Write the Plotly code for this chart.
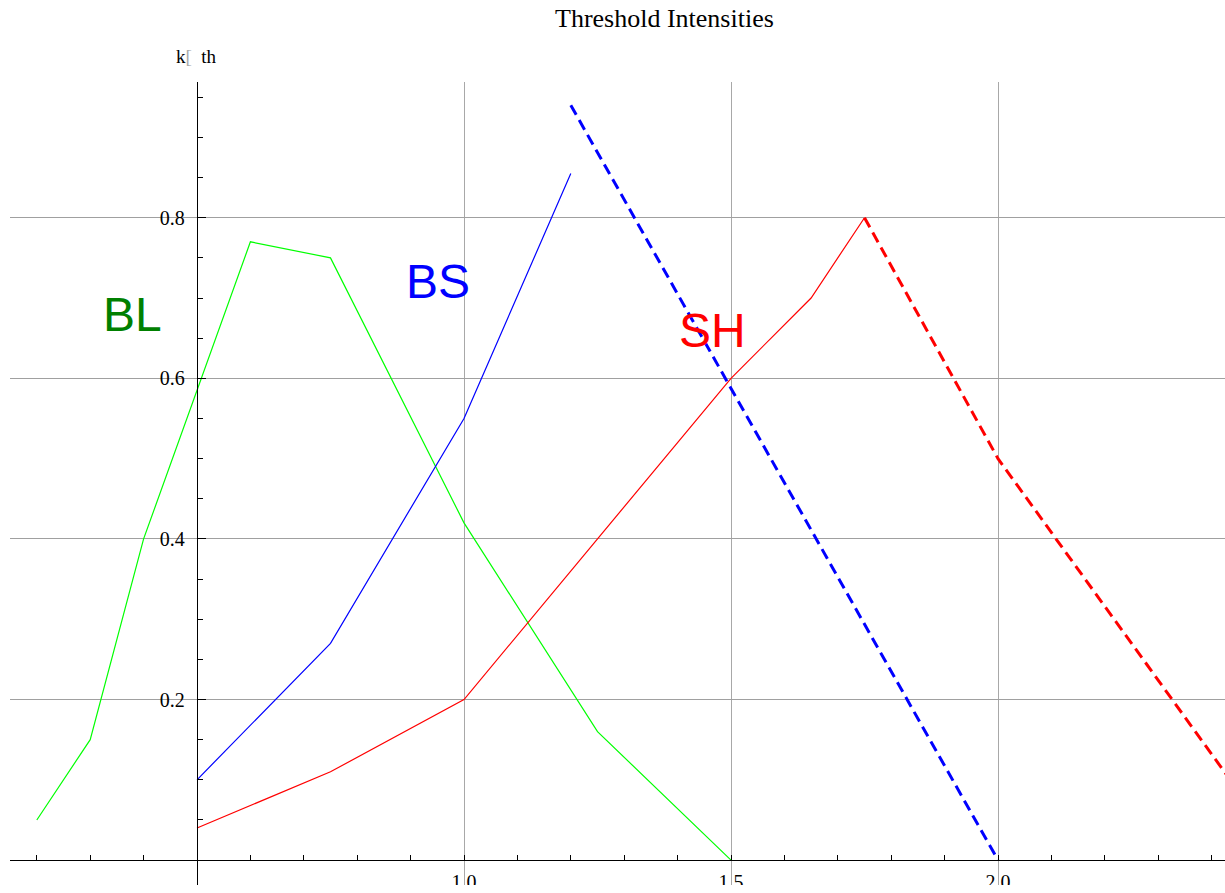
import plotly.graph_objects as go

# Threshold intensity curves
bl_x = [0.2, 0.3, 0.4, 0.6, 0.75, 1.0, 1.25, 1.5]
bl_y = [0.05, 0.15, 0.4, 0.77, 0.75, 0.42, 0.16, 0.0]

bs_x = [0.5, 0.75, 1.0, 1.2]
bs_y = [0.1, 0.27, 0.55, 0.855]
bs_ext_x = [1.2, 2.0]
bs_ext_y = [0.94, 0.0]

sh_x = [0.5, 0.75, 1.0, 1.5, 1.65, 1.75]
sh_y = [0.04, 0.11, 0.2, 0.6, 0.7, 0.8]
sh_ext_x = [1.75, 2.0, 2.5]
sh_ext_y = [0.8, 0.5, 0.04]

x_ticks = [1.0, 1.5, 2.0]
x_ticktext = ["1.0", "1.5", "2.0"]
y_ticks = [0.2, 0.4, 0.6, 0.8]
y_ticktext = ["0.2", "0.4", "0.6", "0.8"]

X_RANGE = [0.1498, 2.4251]
Y_RANGE = [-0.031, 0.969]
Y_AXIS_AT = 0.5

serif = "Liberation Serif, Times New Roman, serif"
sans = "Liberation Sans, Arial, sans-serif"

fig = go.Figure()

fig.add_trace(go.Scatter(x=bl_x, y=bl_y, mode="lines",
                         line=dict(color="#00ff00", width=1.2)))
fig.add_trace(go.Scatter(x=bs_x, y=bs_y, mode="lines",
                         line=dict(color="#0000ff", width=1.2)))
fig.add_trace(go.Scatter(x=bs_ext_x, y=bs_ext_y, mode="lines",
                         line=dict(color="#0000ff", width=3, dash="11px,6px")))
fig.add_trace(go.Scatter(x=sh_x, y=sh_y, mode="lines",
                         line=dict(color="#ff0000", width=1.2)))
fig.add_trace(go.Scatter(x=sh_ext_x, y=sh_ext_y, mode="lines",
                         line=dict(color="#ff0000", width=3, dash="11px,6px")))

x_axis_pos = (0 - Y_RANGE[0]) / (Y_RANGE[1] - Y_RANGE[0])
y_axis_pos = (Y_AXIS_AT - X_RANGE[0]) / (X_RANGE[1] - X_RANGE[0])

fig.update_layout(
    width=1225, height=893,
    margin=dict(l=10, r=0, t=82, b=6, pad=0),
    paper_bgcolor="white", plot_bgcolor="white",
    showlegend=False,
    xaxis=dict(
        range=X_RANGE, anchor="free", position=x_axis_pos,
        showline=True, linecolor="black", linewidth=1.3,
        tickvals=x_ticks, ticktext=x_ticktext,
        ticks="inside", ticklen=5, tickcolor="black", tickwidth=1.2,
        minor=dict(dtick=0.1, tick0=0, ticks="inside", ticklen=5,
                   tickcolor="black", tickwidth=1.2, showgrid=False),
        showgrid=True, gridcolor="#a8a8a8", gridwidth=1.3,
        zeroline=False,
        tickfont=dict(family=serif, size=20, color="black"),
        ticklabelstandoff=4,
    ),
    yaxis=dict(
        range=Y_RANGE, anchor="free", position=y_axis_pos,
        showline=True, linecolor="black", linewidth=1.3,
        tickvals=y_ticks, ticktext=y_ticktext,
        ticks="inside", ticklen=8, tickcolor="black", tickwidth=1.2,
        minor=dict(dtick=0.05, tick0=0, ticks="inside", ticklen=5,
                   tickcolor="black", tickwidth=1.2, showgrid=False),
        showgrid=True, gridcolor="#a0a0a0", gridwidth=1.3,
        zeroline=False,
        tickfont=dict(family=serif, size=20, color="black"),
        ticklabelstandoff=8,
    ),
    shapes=[
        # bottom strip trimming the x tick labels
        dict(type="rect", xref="paper", yref="paper", x0=-0.02, x1=1.02,
             y0=-0.05, y1=0, fillcolor="white", line=dict(width=0), layer="above"),
    ],
    annotations=[
        dict(text="Threshold Intensities", xref="paper", yref="paper",
             x=(664 - 10) / 1215, y=1 + (82 - 18) / 805, xanchor="center", yanchor="middle",
             showarrow=False, font=dict(family=serif, size=26, color="black")),
        dict(text="k<span style='color:#aaaaaa'>[</span>\u00a0\u00a0th", xref="paper", yref="paper",
             x=(197 - 10) / 1215, y=1 + (82 - 56) / 805, xanchor="center", yanchor="middle",
             showarrow=False, font=dict(family=serif, size=19, color="black")),
        dict(text="BL", x=0.38, y=0.68, xref="x", yref="y", showarrow=False,
             font=dict(family=sans, size=48, color="#008000")),
        dict(text="BS", x=0.952, y=0.72, xref="x", yref="y", showarrow=False,
             font=dict(family=sans, size=48, color="#0000ff")),
        dict(text="SH", x=1.466, y=0.66, xref="x", yref="y", showarrow=False,
             font=dict(family=sans, size=48, color="#ff0000")),
    ],
)

fig.write_html("out.html")
